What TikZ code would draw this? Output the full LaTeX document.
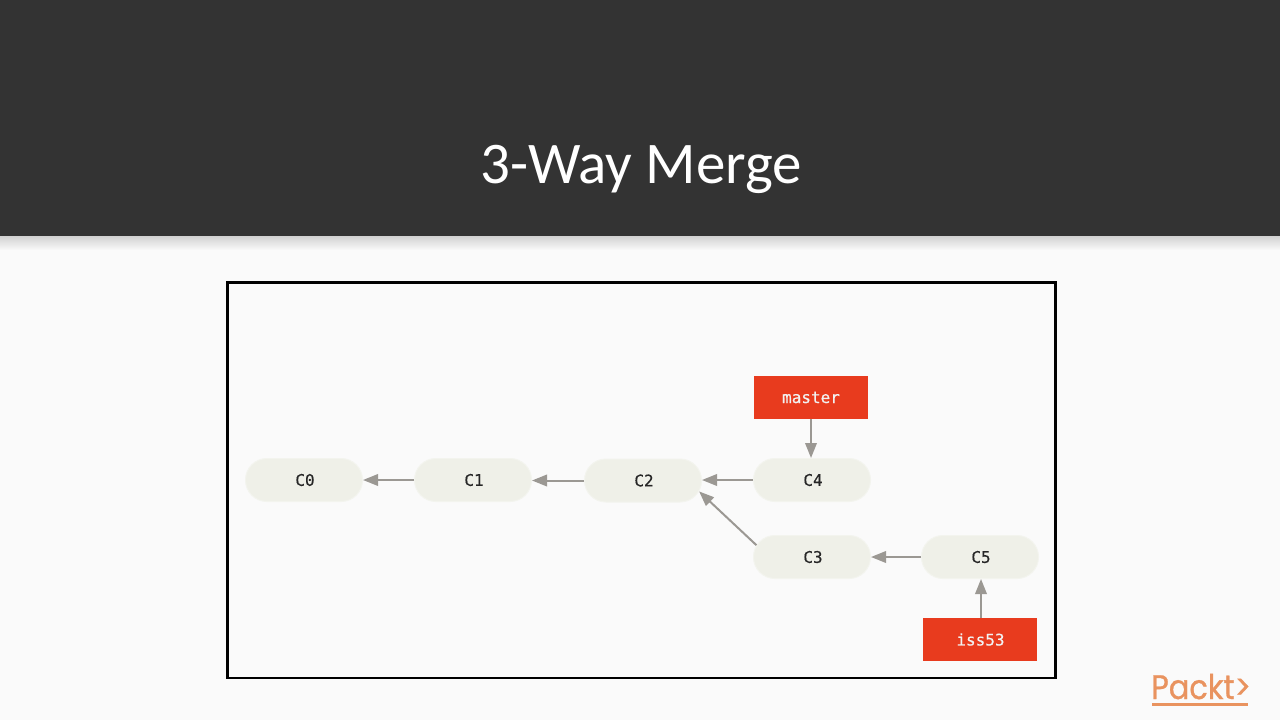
\documentclass[tikz,border=0pt]{standalone}
\usepackage{fontspec}
\setmainfont{Carlito}
\newfontfamily\codefont[FakeBold=0.35]{DejaVu Sans Mono}
\newfontfamily\logofont[FakeBold=0.8,FakeStretch=0.895]{Poppins}
\usetikzlibrary{arrows.meta,shapes.misc}
\definecolor{headbg}{HTML}{333333}
\definecolor{pagebg}{HTML}{FAFAFA}
\definecolor{commitfill}{HTML}{EFF0E8}
\definecolor{commitline}{HTML}{F3F4EE}
\definecolor{branchred}{HTML}{E83B1E}
\definecolor{arrowgrey}{HTML}{9B9893}
\definecolor{logoorange}{HTML}{E9935F}
\tikzset{
  commit/.style={rounded rectangle,fill=commitfill,draw=commitline,line width=1pt,minimum width=117pt,minimum height=43pt,inner sep=0pt,font=\codefont\fontsize{16}{18}\selectfont,text=black!85},
  branch/.style={rectangle,fill=branchred,minimum width=114pt,minimum height=43pt,inner sep=0pt,font=\codefont\fontsize{16}{18}\selectfont,text=white!95!black},
  link/.style={draw=arrowgrey,line width=2pt,-{Triangle[length=15pt,width=11.5pt,fill=arrowgrey]},shorten >=0pt,shorten <=0pt}
}
\begin{document}
\begin{tikzpicture}[x=1pt,y=-1pt]
\useasboundingbox (0,0) rectangle (1280,720);
\fill[pagebg] (0,0) rectangle (1280,720);
\shade[top color=black!18,bottom color=pagebg] (0,236) rectangle (1280,250);
\fill[headbg] (0,0) rectangle (1280,236);
\node[anchor=base,text=white,font=\fontsize{59}{64}\selectfont,inner sep=0pt] (title) at (641,183) {3-Way Merge};
\draw[black,line width=2.5pt] (227.5,282.5) rectangle (1055.5,678);
\node[commit] (C0) at (304,480) {\raisebox{-.7pt}{\kern2pt C0}};
\node[commit] (C1) at (473,480) {\raisebox{-.7pt}{\kern2pt C1}};
\node[commit] (C2) at (643,480.5) {\raisebox{-.7pt}{\kern2pt C2}};
\node[commit] (C4) at (812,480) {\raisebox{-.7pt}{\kern2pt C4}};
\node[commit] (C3) at (812,557) {\raisebox{-.7pt}{\kern2pt C3}};
\node[commit] (C5) at (980,557) {\raisebox{-.7pt}{\kern2pt C5}};
\node[branch] (master) at (811,397.5) {master};
\node[branch] (iss53) at (980,639.5) {\kern1pt iss53};
\draw[link] (C1.west) -- (C0.east);
\draw[link] (C2.west) -- (C2.west -| C1.east);
\draw[link] (C4.west) -- (C4.west -| C2.east);
\draw[link] (C3.168) -- (C2.-11);
\draw[link] (C5.west) -- (C3.east);
\draw[link] (master.south) -- (master.south |- C4.north);
\draw[link] ([xshift=1pt]iss53.north) -- ([xshift=1pt]C5.south);
\node[anchor=base west,inner sep=0pt,text=logoorange,font=\logofont\fontsize{34}{38}\selectfont] (logo) at (1151,699) {Packt>};
\fill[logoorange] (1152,703) rectangle (1248,705.5);
\end{tikzpicture}
\end{document}
